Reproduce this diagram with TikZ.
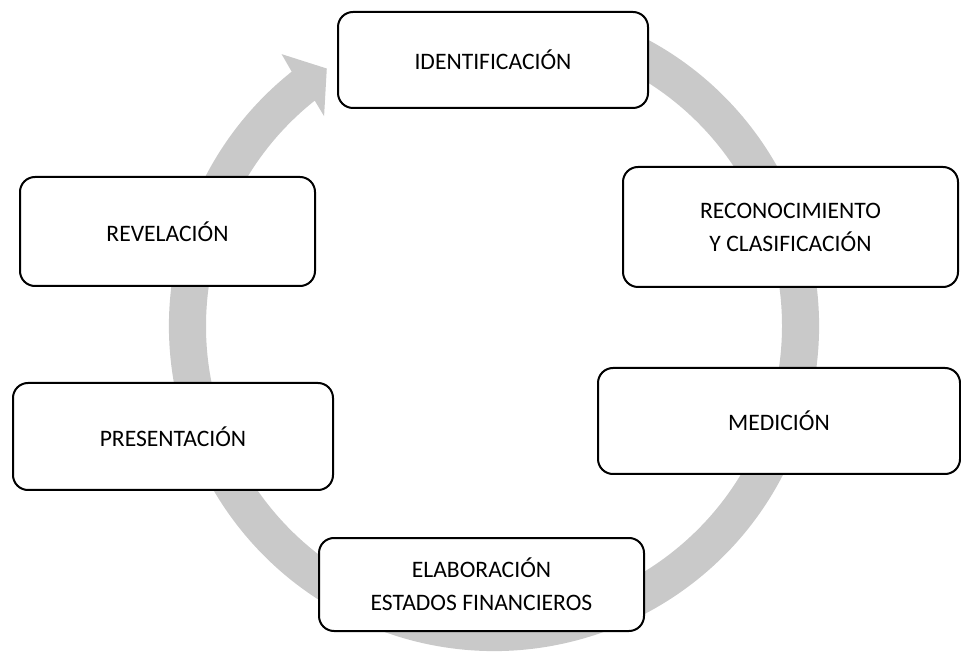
\documentclass[tikz,border=0pt]{standalone}
\usepackage{fontspec}
\setmainfont{Carlito}
\usepackage{xcolor}
\usepackage{tikz}
\usetikzlibrary{calc}
\definecolor{ring}{HTML}{C9C9C9}
\definecolor{edge}{HTML}{000000}
\tikzset{
  etapa/.style={draw=edge, line width=2pt, rounded corners=15pt, fill=white,
    align=center, inner sep=0pt, font=\fontsize{23.6}{33}\selectfont},
  flecha/.style={fill=ring, draw=none},
}

\begin{document}
\begin{tikzpicture}[x=1pt, y=1pt]
  \useasboundingbox (0,0) rectangle (961,651);
  \coordinate (C) at (494,325);

  % gray cycle arrow behind the boxes
  \fill[flecha] ($(C)+(72:325pt)$) arc[start angle=72, end angle=-231.5, radius=325pt]
    -- ($(C)+(-232:345pt)$) -- ($(C)+(-237:307pt)$) -- ($(C)+(-231:270pt)$)
    -- ($(C)+(-231.5:288pt)$) arc[start angle=-231.5, end angle=72, radius=288pt]
    -- cycle;

  \node[etapa, minimum width=310pt, minimum height=96pt]  (ident) at (493,591)   {IDENTIFICACIÓN};
  \node[etapa, minimum width=335pt, minimum height=120pt] (recon) at (790.5,424) {RECONOCIMIENTO\\Y CLASIFICACIÓN};
  \node[etapa, minimum width=362pt, minimum height=106pt] (medic) at (779,230)   {MEDICIÓN};
  \node[etapa, minimum width=325pt, minimum height=93pt]  (elab)  at (481.5,66.5) {ELABORACIÓN\\ESTADOS FINANCIEROS};
  \node[etapa, minimum width=320pt, minimum height=107pt] (pres)  at (173,214.5) {PRESENTACIÓN};
  \node[etapa, minimum width=295pt, minimum height=109pt] (revel) at (167.5,419.5) {REVELACIÓN};
\end{tikzpicture}
\end{document}
